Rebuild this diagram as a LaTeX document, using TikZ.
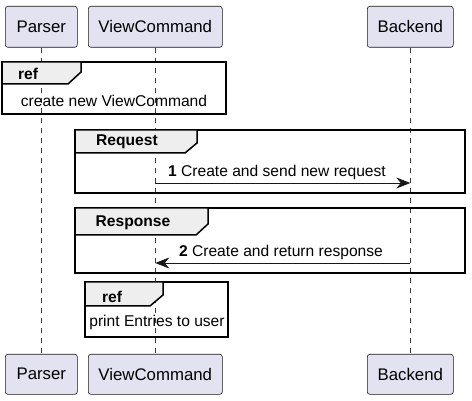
\documentclass[tikz,border=0pt]{standalone}
\usepackage{fontspec}
\setmainfont{Liberation Sans}
\usetikzlibrary{arrows.meta}
\definecolor{partfill}{RGB}{226,226,240}
\definecolor{partline}{RGB}{24,24,24}
\definecolor{tabfill}{RGB}{238,238,238}
\begin{document}
\begin{tikzpicture}[x=1pt,y=-1pt,
  part/.style={draw=partline, fill=partfill, line width=0.6pt, rounded corners=2.5pt,
    inner sep=0pt, font=\fontsize{16.8}{20}\selectfont, anchor=north west},
  life/.style={draw=partline!85, dash pattern=on 5pt off 5pt, line width=0.6pt},
  frm/.style={draw=black, line width=1.5pt},
  tabst/.style={fill=tabfill, draw=black, line width=1.5pt, line join=miter},
  msg/.style={draw=partline, line width=0.8pt, -{Stealth[length=14pt,width=11pt,inset=4.5pt]}},
  lbl/.style={font=\fontsize{15.6}{18}\selectfont, inner sep=0pt},
  tlbl/.style={font=\bfseries\fontsize{15.6}{18}\selectfont, inner sep=0pt}]
\useasboundingbox (0,0) rectangle (472,401);
% participants
\node[part, minimum width=72pt, minimum height=41pt] (pt) at (5,6) {Parser};
\node[part, minimum width=134pt, minimum height=41pt] (vt) at (88,6) {ViewCommand};
\node[part, minimum width=86pt, minimum height=41pt] (bt) at (367,6) {Backend};
\node[part, minimum width=72pt, minimum height=40pt] (pb) at (5,354) {Parser};
\node[part, minimum width=134pt, minimum height=40pt] (vb) at (88,354) {ViewCommand};
\node[part, minimum width=86pt, minimum height=40pt] (bb) at (367,354) {Backend};
% lifelines
\draw[life] (pt.south) -- (pb.north);
\draw[life] (vt.south) -- (vb.north);
\draw[life] (bt.south) -- (bb.north);
% ref 1
\draw[frm] (2,62) rectangle (226,114);
\draw[tabst] (2,62) -- (81,62) -- (81,72) -- (68,84) -- (2,84) -- cycle;
\node[tlbl] (r1t) at (28,74) {ref};
\node[lbl] (r1x) at (114,101) {create new ViewCommand};
% Request frame
\draw[frm] (75,130) rectangle (465,193);
\draw[tabst] (75,130) -- (197,130) -- (197,143) -- (185,153) -- (75,153) -- cycle;
\node[tlbl] (rqt) at (127,142) {Request};
\coordinate (m1s) at (vt.south |- 0,183);
\coordinate (m1e) at (bt.south |- 0,183);
\draw[msg] (m1s) -- (m1e);
\node[lbl] (m1l) at (277,172) {\textbf{1} Create and send new request};
% Response frame
\draw[frm] (75,208) rectangle (465,273);
\draw[tabst] (75,208) -- (208,208) -- (208,224) -- (196,235) -- (75,235) -- cycle;
\node[tlbl] (rst) at (133,223) {Response};
\coordinate (m2s) at (bt.south |- 0,263);
\coordinate (m2e) at (vt.south |- 0,263);
\draw[msg] (m2s) -- (m2e);
\node[lbl] (m2l) at (281,252) {\textbf{2} Create and return response};
% ref 2
\draw[frm] (85,282) rectangle (228,337);
\draw[tabst] (85,282) -- (163,282) -- (163,295) -- (150,306) -- (85,306) -- cycle;
\node[tlbl] (r2t) at (112,297) {ref};
\node[lbl] (r2x) at (157,322) {print Entries to user};
\end{tikzpicture}
\end{document}
